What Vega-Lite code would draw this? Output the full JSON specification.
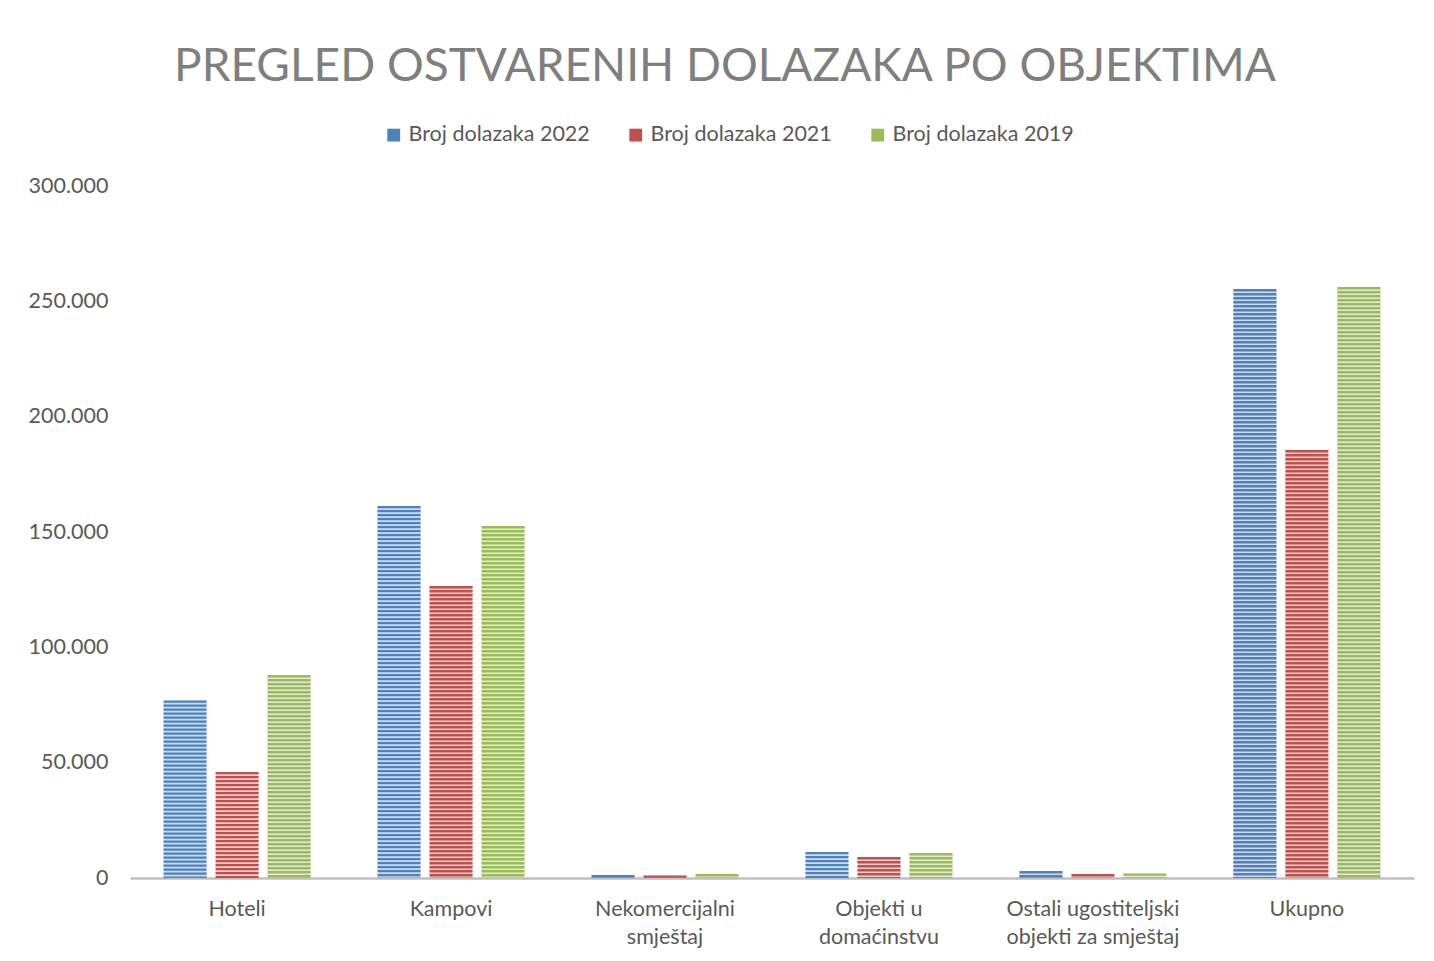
{
  "$schema": "https://vega.github.io/schema/vega-lite/v6.json",
  "width": 1284,
  "height": 692,
  "autosize": {"type": "none"},
  "padding": {"left": 130, "top": 186, "right": 20, "bottom": 83},
  "background": "white",
  "config": {
    "view": {"stroke": null},
    "font": "Lato",
    "axis": {"labelFont": "Lato", "labelColor": "#595959"},
    "legend": {"labelFont": "Lato"}
  },
  "title": {
    "text": "PREGLED OSTVARENIH DOLAZAKA PO OBJEKTIMA",
    "font": "Lato",
    "fontSize": 46,
    "fontWeight": "normal",
    "color": "#7f7f7f",
    "anchor": "middle",
    "frame": "group",
    "dx": -47,
    "offset": 33
  },
  "data": {
    "values": [
      {"kategorija": "Hoteli", "serija": "Broj dolazaka 2022", "dolasci": 77000},
      {"kategorija": "Hoteli", "serija": "Broj dolazaka 2021", "dolasci": 46000},
      {"kategorija": "Hoteli", "serija": "Broj dolazaka 2019", "dolasci": 88000},
      {"kategorija": "Kampovi", "serija": "Broj dolazaka 2022", "dolasci": 161300},
      {"kategorija": "Kampovi", "serija": "Broj dolazaka 2021", "dolasci": 126600},
      {"kategorija": "Kampovi", "serija": "Broj dolazaka 2019", "dolasci": 152600},
      {"kategorija": "Nekomercijalni smještaj", "serija": "Broj dolazaka 2022", "dolasci": 1300},
      {"kategorija": "Nekomercijalni smještaj", "serija": "Broj dolazaka 2021", "dolasci": 1100},
      {"kategorija": "Nekomercijalni smještaj", "serija": "Broj dolazaka 2019", "dolasci": 1700},
      {"kategorija": "Objekti u domaćinstvu", "serija": "Broj dolazaka 2022", "dolasci": 11300},
      {"kategorija": "Objekti u domaćinstvu", "serija": "Broj dolazaka 2021", "dolasci": 9100},
      {"kategorija": "Objekti u domaćinstvu", "serija": "Broj dolazaka 2019", "dolasci": 10800},
      {"kategorija": "Ostali ugostiteljski objekti za smještaj", "serija": "Broj dolazaka 2022", "dolasci": 3000},
      {"kategorija": "Ostali ugostiteljski objekti za smještaj", "serija": "Broj dolazaka 2021", "dolasci": 1700},
      {"kategorija": "Ostali ugostiteljski objekti za smještaj", "serija": "Broj dolazaka 2019", "dolasci": 2000},
      {"kategorija": "Ukupno", "serija": "Broj dolazaka 2022", "dolasci": 255300},
      {"kategorija": "Ukupno", "serija": "Broj dolazaka 2021", "dolasci": 185500},
      {"kategorija": "Ukupno", "serija": "Broj dolazaka 2019", "dolasci": 256200}
    ]
  },
  "encoding": {
    "x": {
      "field": "kategorija",
      "type": "nominal",
      "sort": null,
      "scale": {"paddingInner": 0.313, "paddingOuter": 0.157},
      "axis": {
        "title": null,
        "labelAngle": 0,
        "labelFontSize": 21.5,
        "labelPadding": 20,
        "labelLineHeight": 28,
        "labelBaseline": "top",
        "ticks": false,
        "domainColor": "#bfbfbf",
        "domainWidth": 2.5,
        "labelExpr": "datum.label == 'Nekomercijalni smještaj' ? ['Nekomercijalni', 'smještaj'] : datum.label == 'Objekti u domaćinstvu' ? ['Objekti u', 'domaćinstvu'] : datum.label == 'Ostali ugostiteljski objekti za smještaj' ? ['Ostali ugostiteljski', 'objekti za smještaj'] : datum.label"
      }
    },
    "xOffset": {
      "field": "serija",
      "type": "nominal",
      "sort": ["Broj dolazaka 2022", "Broj dolazaka 2021", "Broj dolazaka 2019"],
      "scale": {"paddingInner": 0.173, "paddingOuter": 0}
    },
    "y": {
      "field": "dolasci",
      "type": "quantitative",
      "scale": {"domain": [0, 300000]},
      "axis": {
        "title": null,
        "values": [0, 50000, 100000, 150000, 200000, 250000, 300000],
        "labelFontSize": 21.5,
        "labelPadding": 22,
        "ticks": false,
        "domain": false,
        "grid": false,
        "labelExpr": "replace(format(datum.value, ','), ',', '.')"
      }
    },
    "color": {
      "field": "serija",
      "type": "nominal",
      "sort": ["Broj dolazaka 2022", "Broj dolazaka 2021", "Broj dolazaka 2019"],
      "scale": {
        "domain": ["Broj dolazaka 2022", "Broj dolazaka 2021", "Broj dolazaka 2019"],
        "range": ["#4f81bd", "#c0504d", "#9bbb59"]
      },
      "legend": {
        "title": null,
        "orient": "none",
        "direction": "horizontal",
        "legendX": 253,
        "legendY": -62,
        "labelFontSize": 21.5,
        "labelLimit": 0,
        "labelColor": "#595959",
        "symbolType": "square",
        "symbolSize": 165,
        "symbolOpacity": 1,
        "symbolStrokeWidth": 0,
        "labelOffset": 4,
        "columnPadding": 35
      }
    }
  },
  "layer": [
    {
      "mark": {"type": "bar", "fillOpacity": 0.28}
    },
    {
      "mark": {"type": "rule", "strokeWidth": 43, "strokeDash": [2.4, 1.6], "strokeCap": "butt"},
      "encoding": {
        "y2": {"datum": 0}
      }
    }
  ]
}
